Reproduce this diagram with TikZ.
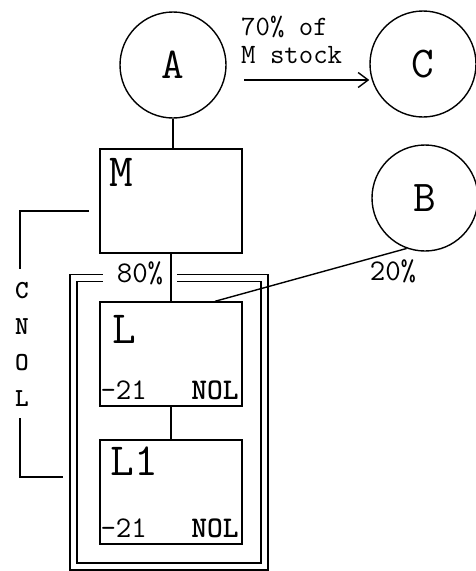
\documentclass[tikz,border=0pt]{standalone}
\usetikzlibrary{arrows.meta}

\begin{document}
\begin{tikzpicture}[x=1pt,y=-1pt,
    party/.style={circle,draw,line width=1.4pt,minimum size=106pt,inner sep=0pt,
                  font=\ttfamily\fontsize{44}{44}\selectfont},
    firm/.style={draw,line width=1.4pt,minimum width=142pt,minimum height=104pt,inner sep=0pt},
    tag/.style={inner sep=0pt,font=\ttfamily\fontsize{46}{46}\selectfont},
    lbl/.style={inner sep=0pt,font=\ttfamily\fontsize{30}{30}\selectfont},
    bld/.style={inner sep=0pt,font=\ttfamily\bfseries\fontsize{30}{30}\selectfont},
    link/.style={line width=1.4pt},
    grp/.style={double,line width=1.6pt,double distance=5.4pt,line join=miter}]
  \useasboundingbox (0,0) rectangle (475,571);

  % ---- soci ----------------------------------------------------------------
  \node[party] (A) at (173,65)  {A};
  \node[party] (C) at (423,64)  {C};
  \node[party] (B) at (425,198) {B};

  % ---- societa -------------------------------------------------------------
  \node[firm] (M)  at (171,201) {};
  \node[firm] (L)  at (171,354) {};
  \node[firm] (L1) at (171,492) {};

  \node[tag,anchor=north west] at ([shift={(10,10)}]M.north west)  {M};
  \node[tag,anchor=north west] at ([shift={(13,14)}]L.north west)  {L};
  \node[tag,anchor=north west] at ([shift={(11,7)}]L1.north west)  {L1};

  \node[lbl,anchor=base west] at ([shift={(1,-7)}]L.south west)   {-21};
  \node[bld,anchor=base east] at ([shift={(-4,-7)}]L.south east)  {NOL};
  \node[lbl,anchor=base west] at ([shift={(1,-7)}]L1.south west)  {-21};
  \node[bld,anchor=base east] at ([shift={(-4,-7)}]L1.south east) {NOL};

  % ---- gruppo consolidato --------------------------------------------------
  \draw[grp] (177,278) -- (264.5,278) -- (264.5,566.5) -- (73.5,566.5)
             -- (73.5,278) -- (103,278);
  \node[lbl] (p80) at (140,273) {80\%};

  \node[bld,align=center,font=\ttfamily\bfseries\fontsize{26}{36}\selectfont]
       (cnol) at (22,344) {C\\N\\O\\L};
  \coordinate (brT) at (89,211);
  \coordinate (brB) at (63,477);
  \draw[link] (brT) -| ([shift={(-2,-13)}]cnol.north);
  \draw[link] ([shift={(-2,12)}]cnol.south) |- (brB);

  % ---- archi ---------------------------------------------------------------
  \draw[link] (A.south) -- (A.south |- M.north);
  \draw[link] (M.south) -- (L.north);
  \draw[link] (L.south) -- (L1.north);
  \draw[link] (B.250) -- ([xshift=44pt]L.north);
  \node[lbl] (p20) at (393,271) {20\%};

  \coordinate (arrS) at (244,80);
  \draw[link,-{Straight Barb[length=10pt,width=15pt,line width=1.4pt]}]
       (arrS) -- (arrS -| C.west);
  \node[lbl,anchor=north west,align=left,font=\ttfamily\fontsize{28}{28}\selectfont]
       (note) at (241,16) {70\% of\\M stock};
\end{tikzpicture}
\end{document}
